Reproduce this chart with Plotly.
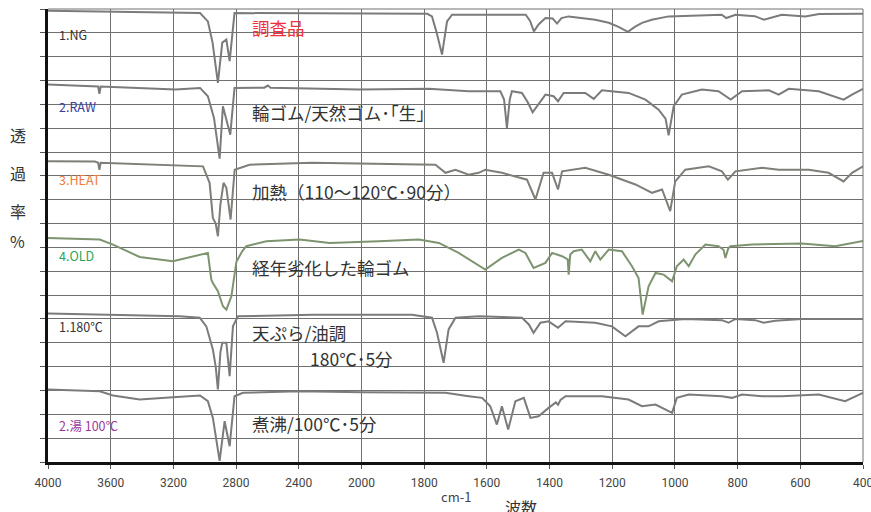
import plotly.graph_objects as go

# ---------------- data ----------------
tick_wn = [4000, 3600, 3200, 2800, 2400, 2000, 1800, 1600, 1400, 1200, 1000, 800, 600, 400]

# 1.NG  調査品
wn_ng = [4000, 3600, 3200, 3030, 2980, 2950, 2916, 2888, 2862, 2841, 2810, 2400, 2000, 1790, 1775, 1760,
         1743, 1727, 1711, 1658, 1476, 1462, 1450, 1435, 1413, 1390, 1376, 1362, 1339, 1254, 1211, 1180,
         1150, 1128, 1105, 1074, 1020, 851, 836, 807, 745, 716, 659, 584, 540, 400]
t_ng = [18.93, 18.90, 18.86, 18.83, 18.48, 17.59, 15.90, 17.59, 17.72, 16.81, 18.83, 18.83, 18.83, 18.80,
        18.69, 18.00, 17.09, 18.48, 18.76, 18.76, 18.76, 18.50, 18.06, 18.35, 18.62, 18.60, 18.39, 18.62,
        18.69, 18.55, 18.42, 18.25, 18.04, 18.25, 18.42, 18.55, 18.69, 18.76, 18.62, 18.76, 18.70, 18.55,
        18.76, 18.69, 18.79, 18.80]

# 2.RAW  輪ゴム/天然ゴム「生」
wn_raw = [4000, 3700, 3680, 3672, 3664, 3585, 3187, 3030, 2980, 2941, 2905, 2884, 2837, 2810, 2620, 2597,
          2580, 2012, 1785, 1658, 1557, 1545, 1536, 1527, 1520, 1488, 1470, 1454, 1430, 1413, 1387, 1373,
          1355, 1286, 1259, 1233, 1148, 1094, 1052, 1030, 1020, 1004, 978, 914, 861, 822, 786, 700, 669,
          637, 541, 462, 435, 400]
t_raw = [15.83, 15.78, 15.75, 15.44, 15.75, 15.73, 15.62, 15.69, 15.34, 14.43, 12.72, 14.92, 13.73, 15.69,
         15.70, 15.79, 15.70, 15.62, 15.65, 15.55, 15.55, 15.20, 14.01, 15.20, 15.55, 15.48, 15.10, 14.67,
         15.10, 15.41, 15.34, 15.13, 15.48, 15.48, 15.23, 15.59, 15.48, 15.20, 14.78, 14.40, 13.70, 14.92,
         15.41, 15.62, 15.55, 15.20, 15.55, 15.59, 15.41, 15.65, 15.55, 15.20, 15.41, 15.65]

# 3.HEAT  加熱
wn_heat = [4000, 3700, 3680, 3672, 3664, 3011, 2969, 2948, 2930, 2916, 2900, 2880, 2862, 2835, 2809, 2714,
           2312, 1945, 1764, 1732, 1700, 1658, 1626, 1605, 1552, 1472, 1445, 1419, 1392, 1373, 1360, 1286,
           1211, 1126, 1073, 1041, 1015, 999, 967, 892, 850, 831, 807, 722, 669, 573, 510, 462, 435, 400]
t_heat = [12.61, 12.60, 12.55, 12.26, 12.55, 12.40, 11.71, 10.24, 10.00, 9.47, 10.80, 11.71, 11.50, 10.17,
          12.26, 12.47, 12.55, 12.52, 12.47, 12.13, 12.26, 12.05, 12.13, 12.26, 12.13, 11.84, 11.01, 12.13,
          12.13, 11.43, 12.19, 12.34, 12.05, 11.64, 11.29, 11.43, 10.52, 11.77, 12.26, 12.40, 12.19, 11.84,
          12.19, 12.34, 12.26, 12.26, 12.13, 11.77, 12.13, 12.40]

# 4.OLD  経年劣化した輪ゴム
wn_old = [4000, 3670, 3585, 3415, 3203, 3117, 2980, 2958, 2948, 2916, 2884, 2862, 2830, 2798, 2760, 2735,
          2607, 2395, 2203, 1945, 1817, 1753, 1690, 1605, 1552, 1498, 1477, 1451, 1413, 1392, 1360, 1342,
          1339, 1334, 1323, 1297, 1270, 1254, 1238, 1211, 1169, 1137, 1116, 1103, 1084, 1062, 1036, 1009,
          994, 972, 956, 935, 903, 861, 845, 839, 830, 823, 754, 595, 489, 400]
t_old = [9.40, 9.33, 9.12, 8.60, 8.42, 8.56, 8.77, 7.65, 7.51, 7.16, 6.53, 6.39, 6.95, 8.40, 8.85, 9.05,
         9.26, 9.33, 9.19, 9.26, 9.33, 9.19, 8.77, 8.07, 8.56, 8.91, 8.77, 8.14, 8.35, 8.77, 8.63, 8.50,
         7.86, 8.70, 8.84, 8.91, 8.42, 8.84, 8.49, 8.91, 8.84, 8.21, 7.72, 6.18, 7.37, 7.93, 7.86, 7.58,
         8.21, 8.49, 8.21, 8.70, 9.12, 9.05, 8.90, 8.56, 8.95, 9.05, 9.12, 9.16, 9.05, 9.27]

# 1.180℃  天ぷら/油調
wn_180 = [4000, 3160, 3032, 2990, 2948, 2930, 2916, 2900, 2888, 2862, 2841, 2820, 2788, 2310, 1839, 1775,
          1759, 1738, 1722, 1700, 1626, 1488, 1466, 1451, 1429, 1403, 1373, 1349, 1254, 1201, 1158, 1116,
          1084, 1052, 967, 850, 829, 807, 744, 717, 680, 595, 400]
t_180 = [6.23, 6.11, 6.05, 5.69, 4.72, 4.00, 3.04, 4.60, 5.00, 5.00, 3.60, 5.69, 6.11, 6.18, 6.18, 6.05,
         5.42, 4.16, 5.56, 6.05, 6.11, 6.05, 5.77, 5.42, 5.84, 5.90, 5.63, 5.90, 5.84, 5.69, 5.27, 5.69,
         5.69, 5.90, 6.00, 5.95, 5.84, 6.00, 5.95, 5.84, 5.92, 6.00, 6.00]

# 2.湯 100℃  煮沸
wn_boil = [4000, 3670, 3585, 3415, 3203, 3030, 2980, 2948, 2905, 2873, 2841, 2810, 2756, 2395, 2000, 1732,
           1658, 1615, 1589, 1568, 1552, 1532, 1509, 1482, 1461, 1435, 1403, 1380, 1373, 1365, 1349, 1233,
           1148, 1105, 1062, 1031, 1009, 994, 956, 850, 818, 786, 722, 659, 541, 457, 400]
t_boil = [3.04, 2.97, 2.79, 2.62, 2.72, 2.79, 2.55, 1.85, 0.05, 1.71, 0.66, 2.76, 2.90, 2.97, 2.93, 2.90,
          2.76, 2.69, 2.34, 1.57, 2.34, 1.36, 2.55, 2.69, 1.85, 1.92, 2.27, 2.50, 2.40, 2.60, 2.76, 2.76,
          2.62, 2.34, 2.41, 2.20, 2.06, 2.69, 2.83, 2.76, 2.69, 2.83, 2.76, 2.76, 2.83, 2.55, 2.90]

sample_labels = ["1.NG", "2.RAW", "3.HEAT", "4.OLD", "1.180℃", "2.湯 100℃"]
sample_label_y = [17.92, 14.92, 11.85, 8.66, 5.69, 1.54]
sample_label_colors = ["#333333", "#3a3d9e", "#f07a3c", "#2aa55a", "#333333", "#9b3a9b"]

notes = ["調査品", "輪ゴム/天然ゴム･｢生｣", "加熱（110～120℃･90分）", "経年劣化した輪ゴム",
         "天ぷら/油調", "180℃･5分", "煮沸/100℃･5分"]
notes_x = [3.216, 3.216, 3.216, 3.216, 3.216, 4.146, 3.216]
notes_y = [18.22, 14.67, 11.35, 8.14, 5.42, 4.33, 1.61]
notes_colors = ["#f0303c"] + ["#333333"] * 6

# ---------------- scale: 4000-2000 at 400/div, 2000-400 at 200/div ----------------
def wn_to_u(w):
    return (4000 - w) / 400 if w >= 2000 else 5 + (2000 - w) / 200

FONT = "Noto Sans CJK JP, Noto Sans, sans-serif"

fig = go.Figure()
series = [(wn_ng, t_ng, "#7b7b7b"), (wn_raw, t_raw, "#7b7b7b"), (wn_heat, t_heat, "#7d7f78"),
          (wn_old, t_old, "#7e9470"), (wn_180, t_180, "#7b7b7b"), (wn_boil, t_boil, "#7b7b7b")]
for wn, t, col in series:
    fig.add_trace(go.Scatter(x=[wn_to_u(w) for w in wn], y=t, mode="lines",
                             line=dict(color=col, width=2), showlegend=False, hoverinfo="skip"))

for lab, y, c in zip(sample_labels, sample_label_y, sample_label_colors):
    fig.add_annotation(x=0.139, y=y, xref="x", yref="y", text=lab, showarrow=False,
                       xanchor="left", yanchor="middle", font=dict(family=FONT, size=12.5, color=c))

for txt, x, y, c in zip(notes, notes_x, notes_y, notes_colors):
    fig.add_annotation(x=x, y=y, xref="x", yref="y", text=txt, showarrow=False,
                       xanchor="left", yanchor="middle", font=dict(family=FONT, size=17.5, color=c))

for ch, yp in zip(["透", "過", "率", "%"], [0.7226, 0.6388, 0.5534, 0.4872]):
    fig.add_annotation(x=-0.0372, y=yp, xref="paper", yref="paper", text=ch, showarrow=False,
                       xanchor="center", yanchor="middle", font=dict(family=FONT, size=16, color="#333333"))

fig.add_annotation(x=0.50, y=-0.0761, xref="paper", yref="paper", text="cm-1", showarrow=False,
                   xanchor="center", yanchor="middle", font=dict(family=FONT, size=13, color="#444444"))
fig.add_annotation(x=0.58, y=-0.10, xref="paper", yref="paper", text="波数", showarrow=False,
                   xanchor="center", yanchor="middle", font=dict(family=FONT, size=16, color="#333333"))

# top / right borders (grey, like the grid)
fig.add_shape(type="line", xref="paper", yref="paper", x0=0, x1=1, y0=1, y1=1,
              line=dict(color="#707070", width=1))
fig.add_shape(type="line", xref="paper", yref="paper", x0=1, x1=1, y0=0, y1=1,
              line=dict(color="#707070", width=1))

fig.update_xaxes(range=[0, 13], tickmode="array", tickvals=[wn_to_u(w) for w in tick_wn],
                 ticktext=[str(w) for w in tick_wn], showgrid=True, gridcolor="#707070", gridwidth=1,
                 zeroline=False, showline=True, linecolor="#111111", linewidth=3, automargin=False,
                 ticks="outside", ticklen=4, tickcolor="#555555", ticklabelstandoff=4,
                 ticklabeloverflow="allow",
                 tickfont=dict(family="Roboto, sans-serif", size=12, color="#444444"))
fig.update_yaxes(range=[0, 19], tickmode="array", tickvals=list(range(0, 20)), showticklabels=False,
                 showgrid=True, gridcolor="#707070", gridwidth=1, zeroline=False, automargin=False,
                 showline=True, linecolor="#111111", linewidth=3,
                 ticks="outside", ticklen=5, tickcolor="#555555")

fig.update_layout(width=871, height=512, margin=dict(l=48, r=8, t=9, b=50),
                  plot_bgcolor="white", paper_bgcolor="white", showlegend=False)

fig.write_html("out.html", config={"displayModeBar": False},
               post_script="document.body.style.margin='0';document.body.style.overflow='hidden';")
